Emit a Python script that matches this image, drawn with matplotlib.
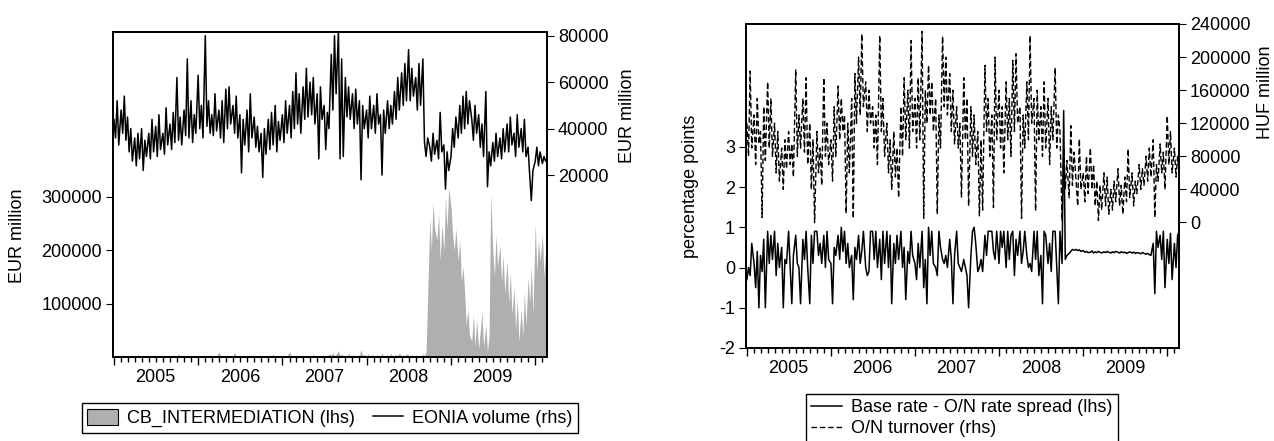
import pandas as pd
import matplotlib
matplotlib.use("Agg")
import matplotlib.pyplot as plt
import matplotlib.dates as mdates
from matplotlib.ticker import FuncFormatter, NullFormatter
from matplotlib.patches import Patch
from matplotlib.lines import Line2D

plt.rcParams['font.family'] = ['Liberation Sans', 'DejaVu Sans']
plt.rcParams['font.size'] = 13
plt.rcParams['axes.unicode_minus'] = False

# four readings per month, Jan 2005 - Feb 2010
months = pd.date_range("2005-01-01", "2010-02-01", freq="MS")
dates = [m + pd.Timedelta(days=d) for m in months for d in (0, 7, 14, 21)]

# --- left panel: EONIA volume (rhs, EUR million)
eonia_2005 = [44000, 36000, 52000, 33000, 48000, 38000, 54000, 35000,
              45000, 30000, 40000, 26000, 36000, 24000, 38000, 27000,
              40000, 22000, 35000, 28000, 38000, 27000, 44000, 30000,
              41000, 28000, 46000, 31000, 38000, 29000, 49000, 33000,
              42000, 31000, 47000, 34000, 62000, 35000, 45000, 33000,
              48000, 37000, 70000, 36000, 52000, 34000, 46000, 38000]
eonia_2006 = [63000, 40000, 50000, 36000, 80000, 41000, 52000, 38000,
              46000, 37000, 55000, 39000, 48000, 36000, 52000, 34000,
              57000, 40000, 58000, 42000, 50000, 38000, 54000, 36000,
              46000, 21000, 44000, 33000, 48000, 30000, 55000, 36000,
              45000, 32000, 41000, 30000, 38000, 19000, 40000, 29000,
              44000, 31000, 47000, 33000, 50000, 30000, 43000, 35000]
eonia_2007 = [46000, 34000, 52000, 38000, 50000, 36000, 56000, 40000,
              64000, 42000, 55000, 38000, 58000, 44000, 66000, 45000,
              60000, 46000, 62000, 42000, 55000, 27000, 58000, 44000,
              50000, 31000, 47000, 40000, 72000, 48000, 80000, 55000,
              82000, 27000, 70000, 28000, 62000, 45000, 58000, 44000,
              55000, 40000, 57000, 42000, 52000, 18000, 50000, 40000]
eonia_2008 = [48000, 36000, 54000, 40000, 50000, 38000, 55000, 42000,
              46000, 20000, 48000, 38000, 52000, 40000, 50000, 42000,
              56000, 44000, 62000, 48000, 64000, 50000, 68000, 52000,
              74000, 52000, 66000, 54000, 62000, 48000, 68000, 50000,
              70000, 34000, 28000, 36000, 32000, 26000, 38000, 29000,
              35000, 27000, 47000, 30000, 33000, 14000, 30000, 22000]
eonia_2009 = [28000, 40000, 32000, 45000, 36000, 50000, 38000, 54000,
              40000, 56000, 42000, 52000, 44000, 35000, 50000, 38000,
              46000, 32000, 42000, 28000, 56000, 15000, 30000, 24000,
              34000, 26000, 38000, 28000, 36000, 27000, 40000, 30000,
              42000, 30000, 45000, 33000, 38000, 28000, 46000, 32000,
              40000, 30000, 44000, 28000, 32000, 20000, 9000, 22000]
eonia_2010 = [26000, 32000, 24000, 30000, 25000, 28000, 26000, 27000]

# --- left panel: CB_INTERMEDIATION (lhs, EUR million)
cb_2005 = [2000, 1000, 3000, 1000, 2000, 4000, 1000, 2000,
           1000, 3000, 2000, 1000, 2000, 1000, 5000, 2000,
           1000, 2000, 3000, 1000, 2000, 1000, 2000, 4000,
           1000, 3000, 1000, 2000, 1000, 2000, 1000, 3000,
           2000, 1000, 4000, 1000, 2000, 6000, 1000, 2000,
           1000, 3000, 2000, 1000, 2000, 1000, 3000, 2000]
cb_2006 = [1000, 2000, 1000, 3000, 2000, 1000, 4000, 1000,
           2000, 1000, 3000, 2000, 10000, 1000, 2000, 1000,
           3000, 2000, 1000, 2000, 1000, 9000, 2000, 1000,
           2000, 1000, 3000, 1000, 2000, 4000, 1000, 2000,
           1000, 2000, 1000, 3000, 2000, 1000, 2000, 1000,
           3000, 1000, 2000, 5000, 1000, 2000, 1000, 3000]
cb_2007 = [2000, 1000, 3000, 2000, 11000, 1000, 2000, 1000,
           3000, 2000, 1000, 4000, 2000, 1000, 3000, 2000,
           1000, 2000, 5000, 1000, 2000, 3000, 1000, 2000,
           4000, 1000, 2000, 6000, 3000, 8000, 2000, 5000,
           12000, 3000, 6000, 2000, 4000, 1000, 7000, 3000,
           2000, 5000, 1000, 4000, 3000, 14000, 2000, 5000]
cb_2008 = [2000, 6000, 1000, 4000, 3000, 1000, 5000, 2000,
           2000, 7000, 1000, 3000, 4000, 2000, 6000, 1000,
           3000, 5000, 2000, 8000, 1000, 4000, 2000, 6000,
           3000, 1000, 5000, 2000, 4000, 2000, 3000, 1000,
           6000, 3000, 9000, 120000, 260000, 200000, 290000, 240000,
           220000, 270000, 180000, 250000, 200000, 300000, 240000, 318000]
cb_2009 = [280000, 230000, 200000, 240000, 180000, 220000, 140000, 170000,
           120000, 60000, 90000, 40000, 30000, 80000, 20000, 70000,
           15000, 50000, 85000, 20000, 60000, 10000, 40000, 308000,
           200000, 150000, 230000, 170000, 210000, 140000, 190000, 120000,
           180000, 100000, 160000, 80000, 130000, 50000, 110000, 30000,
           90000, 40000, 120000, 60000, 150000, 100000, 170000, 80000]
cb_2010 = [250000, 160000, 220000, 180000, 230000, 150000, 200000, 262000]

# --- right panel: base rate - O/N rate spread (lhs, percentage points)
spread_2005 = [-0.3, 0.0, -0.2, 0.6, 0.1, -0.5, 0.4, -1.0,
               0.3, -0.1, 0.7, -1.0, 0.9, 0.1, 0.8, 0.2,
               0.9, -0.2, 0.6, 0.0, 0.5, -1.0, 0.2, 0.1,
               0.9, 0.0, -0.9, 0.3, 0.8, 0.1, 0.0, -0.9,
               0.7, 0.2, 0.9, 0.0, -0.9, 0.8, 0.1, 0.9,
               0.9, 0.3, 0.6, 0.1, 0.8, 0.0, 0.9, 0.2]
spread_2006 = [0.1, -0.9, 0.5, 0.3, 0.8, 0.2, 1.0, 0.4,
               0.9, 0.1, 0.6, 0.0, 0.3, -0.8, 0.5, 0.2,
               0.8, 0.1, 0.4, 0.9, 0.0, -0.2, -0.1, 0.9,
               0.9, 0.2, 0.9, 0.0, 0.7, -0.3, 0.9, 0.1,
               0.9, 0.0, 0.8, -0.9, 0.6, 0.1, 0.8, 0.2,
               0.9, 0.0, 0.5, -0.8, 0.4, 0.1, 0.9, 0.3]
spread_2007 = [0.1, -0.3, 0.6, 0.0, 0.9, -0.5, 0.2, -0.9,
               1.0, 0.3, 0.9, 0.1, 0.0, -0.2, 0.9, 0.5,
               0.2, 0.1, 0.3, 0.0, 0.7, 0.2, -0.9, 0.3,
               0.9, 0.1, 0.0, -0.1, 0.2, 0.0, -0.2, -1.0,
               0.3, 0.9, 1.0, 0.6, -0.1, 0.0, 0.2, -0.1,
               0.8, 0.3, 0.9, 0.9, 0.9, 0.4, 0.2, 0.9]
spread_2008 = [0.1, 0.9, 0.5, 0.9, 0.0, 0.9, 0.2, 0.8,
               0.9, -0.2, 0.7, 0.3, 0.9, 0.1, 0.4, 0.9,
               0.3, 0.0, 0.1, -0.1, 0.9, 0.2, 0.9, -0.2,
               0.3, -0.9, 0.9, 0.8, 0.1, 0.6, -0.1, 0.9,
               0.9, 0.0, -0.9, 0.9, 0.1, 3.9, 0.2, 0.3,
               0.35, 0.4, 0.45, 0.43, 0.45, 0.42, 0.44, 0.40]
spread_2009 = [0.42, 0.38, 0.40, 0.37, 0.38, 0.41, 0.36, 0.39,
               0.37, 0.40, 0.38, 0.36, 0.39, 0.37, 0.40, 0.38,
               0.36, 0.39, 0.37, 0.40, 0.38, 0.36, 0.39, 0.37,
               0.38, 0.35, 0.37, 0.39, 0.36, 0.38, 0.35, 0.37,
               0.36, 0.34, 0.37, 0.35, 0.33, 0.35, 0.32, 0.30,
               0.6, -0.65, 0.9, 0.5, 0.8, 0.2, 0.9, -0.5]
spread_2010 = [0.7, 0.1, 0.85, -0.3, 0.6, 0.0, 0.8, 0.9]

# --- right panel: O/N turnover (rhs, HUF million)
turn_2005 = [120000, 80000, 183000, 90000, 130000, 70000, 150000, 95000,
             110000, 6000, 140000, 75000, 170000, 90000, 150000, 80000,
             120000, 60000, 110000, 50000, 90000, 40000, 100000, 65000,
             110000, 70000, 95000, 55000, 185000, 80000, 130000, 90000,
             150000, 85000, 175000, 70000, 120000, 40000, 100000, 0,
             110000, 60000, 90000, 45000, 175000, 80000, 120000, 70000]
turn_2006 = [100000, 50000, 140000, 80000, 165000, 100000, 150000, 110000,
             130000, 11000, 120000, 60000, 150000, 5000, 180000, 120000,
             200000, 130000, 228000, 140000, 170000, 110000, 160000, 120000,
             140000, 90000, 130000, 70000, 226000, 110000, 150000, 80000,
             120000, 60000, 100000, 40000, 110000, 55000, 90000, 30000,
             140000, 80000, 175000, 100000, 160000, 90000, 220000, 110000]
turn_2007 = [150000, 90000, 175000, 100000, 231000, 5000, 160000, 120000,
             190000, 130000, 170000, 110000, 150000, 10000, 130000, 90000,
             225000, 140000, 200000, 130000, 180000, 110000, 160000, 95000,
             140000, 90000, 120000, 30000, 175000, 100000, 150000, 20000,
             140000, 80000, 130000, 70000, 110000, 8000, 100000, 15000,
             190000, 110000, 150000, 80000, 130000, 18000, 200000, 100000]
turn_2008 = [160000, 90000, 140000, 60000, 170000, 100000, 150000, 80000,
             196000, 110000, 204000, 120000, 140000, 5000, 130000, 90000,
             170000, 100000, 226000, 120000, 150000, 14000, 160000, 100000,
             140000, 80000, 170000, 90000, 150000, 70000, 140000, 100000,
             187000, 90000, 130000, 110000, 2000, 90000, 40000, 75000,
             30000, 117000, 45000, 85000, 50000, 20000, 101000, 40000]
turn_2009 = [60000, 25000, 80000, 35000, 90000, 40000, 70000, 20000,
             50000, 2400, 45000, 15000, 60000, 20000, 55000, 10000,
             40000, 15000, 50000, 25000, 65000, 20000, 45000, 10000,
             55000, 25000, 89000, 30000, 60000, 20000, 50000, 35000,
             70000, 40000, 65000, 45000, 80000, 50000, 90000, 55000,
             100000, 6000, 70000, 50000, 95000, 60000, 85000, 40000]
turn_2010 = [129000, 70000, 110000, 60000, 90000, 55000, 80000, 60000]

eonia = eonia_2005 + eonia_2006 + eonia_2007 + eonia_2008 + eonia_2009 + eonia_2010
cb = cb_2005 + cb_2006 + cb_2007 + cb_2008 + cb_2009 + cb_2010
spread = spread_2005 + spread_2006 + spread_2007 + spread_2008 + spread_2009 + spread_2010
turnover = turn_2005 + turn_2006 + turn_2007 + turn_2008 + turn_2009 + turn_2010

W, H = 1274, 441
fig = plt.figure(figsize=(W / 100, H / 100), dpi=100)

int_fmt = FuncFormatter(lambda v, p: "%d" % v)


def year_label(v, p):
    d = mdates.num2date(v)
    return str(d.year) if d.month == 7 else ""


def style_axes(ax):
    ax.set_xlim(pd.Timestamp("2004-12-28"), pd.Timestamp("2010-02-21"))
    ax.xaxis.set_major_locator(mdates.YearLocator())
    ax.xaxis.set_major_formatter(NullFormatter())
    ax.xaxis.set_minor_locator(mdates.MonthLocator())
    ax.xaxis.set_minor_formatter(FuncFormatter(year_label))
    ax.tick_params(axis="x", which="major", length=6, width=1.0, direction="out")
    ax.tick_params(axis="x", which="minor", length=3.5, width=1.0, direction="out", pad=5)
    ax.tick_params(axis="y", length=5, width=0.8, direction="out", pad=3)
    for s in ax.spines.values():
        s.set_linewidth(1.3)


# left panel
ax1 = fig.add_axes([113 / W, 1 - 357 / H, 434 / W, 325 / H])
ax1.fill_between(dates, 0, cb, color="#aeb0b0", lw=0)
ax1.set_ylim(0, 609000)
ax1.set_yticks([100000, 200000, 300000])
ax1.yaxis.set_major_formatter(int_fmt)
style_axes(ax1)

ax1b = ax1.twinx()
ax1b.plot(dates, eonia, color="black", lw=1.1)
ax1b.set_ylim(-58300, 81600)
ax1b.set_yticks([20000, 40000, 60000, 80000])
ax1b.yaxis.set_major_formatter(int_fmt)
style_axes(ax1b)

fig.text(18 / W, 1 - 236 / H, "EUR million", rotation=90, ha="center", va="center")
fig.text(627 / W, 1 - 116 / H, "EUR million", rotation=90, ha="center", va="center")

fig.legend(handles=[Patch(facecolor="#aeb0b0", edgecolor="black", lw=0.8),
                    Line2D([], [], color="black", lw=1.1)],
           labels=["CB_INTERMEDIATION (lhs)", "EONIA volume (rhs)"],
           loc="center", bbox_to_anchor=(330 / W, 1 - 418 / H), ncol=2,
           frameon=True, fancybox=False, edgecolor="black", framealpha=1,
           handlelength=1.7, handleheight=1.0, columnspacing=1.0,
           handletextpad=0.5, borderpad=0.3, borderaxespad=0)

# right panel
ax2 = fig.add_axes([746 / W, 1 - 348 / H, 433 / W, 324 / H])
ax2.plot(dates, spread, color="black", lw=1.1)
ax2.set_ylim(-2, 6.05)
ax2.set_yticks([-2, -1, 0, 1, 2, 3])
style_axes(ax2)

ax2b = ax2.twinx()
ax2b.plot(dates, turnover, color="black", lw=1.0, dashes=(4, 2))
ax2b.set_ylim(-151800, 240000)
ax2b.set_yticks([0, 40000, 80000, 120000, 160000, 200000, 240000])
ax2b.yaxis.set_major_formatter(int_fmt)
style_axes(ax2b)

fig.text(691 / W, 1 - 186 / H, "percentage points", rotation=90, ha="center", va="center")
fig.text(1265 / W, 1 - 92 / H, "HUF million", rotation=90, ha="center", va="center")

fig.legend(handles=[Line2D([], [], color="black", lw=1.1),
                    Line2D([], [], color="black", lw=1.0, dashes=(4, 2))],
           labels=["Base rate - O/N rate spread (lhs)", "O/N turnover (rhs)"],
           loc="upper left", bbox_to_anchor=(806 / W, 1 - 394 / H), ncol=1,
           frameon=True, fancybox=False, edgecolor="black", framealpha=1,
           handlelength=1.7, handletextpad=0.5, borderpad=0.3, labelspacing=0.2,
           borderaxespad=0)

fig.savefig("out.png", dpi=100)
